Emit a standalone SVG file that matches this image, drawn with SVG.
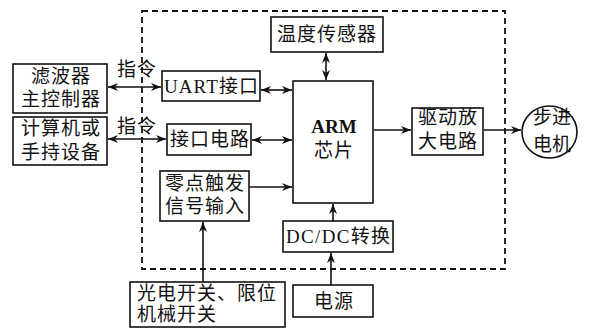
<svg xmlns="http://www.w3.org/2000/svg" width="595" height="329" viewBox="0 0 595 329">
<defs>
<marker id="ah" viewBox="0 0 10 8" refX="10" refY="4" markerWidth="10" markerHeight="8" markerUnits="userSpaceOnUse" orient="auto-start-reverse">
<path d="M0,0 L10,4 L0,8 L3,4 Z" fill="#111"/>
</marker>
<style>
.box{fill:#fff;stroke:#111;stroke-width:1.6}
.t{font-family:"Liberation Serif","Noto Sans CJK SC",serif;font-size:19px;fill:#111;text-anchor:middle;letter-spacing:1px}
.s{text-anchor:start}
.n{letter-spacing:0}
.b{font-weight:bold}
.c{stroke:#111;stroke-width:1.6;fill:none}
.dash{fill:none;stroke:#111;stroke-width:1.8;stroke-dasharray:6,4}
</style>
</defs>
<rect width="595" height="329" fill="#fff"/>
<rect class="dash" x="142" y="11" width="363" height="258"/>

<g id="connectors">
<line class="c" x1="108" y1="87" x2="161" y2="87" marker-start="url(#ah)" marker-end="url(#ah)"/>
<line class="c" x1="108" y1="139" x2="166" y2="139" marker-start="url(#ah)" marker-end="url(#ah)"/>
<line class="c" x1="261" y1="90" x2="292" y2="90" marker-start="url(#ah)" marker-end="url(#ah)"/>
<line class="c" x1="252" y1="140" x2="292" y2="140" marker-start="url(#ah)" marker-end="url(#ah)"/>
<line class="c" x1="326" y1="53" x2="326" y2="80" marker-start="url(#ah)" marker-end="url(#ah)"/>
<line class="c" x1="250" y1="187" x2="292" y2="187" marker-end="url(#ah)"/>
<line class="c" x1="333" y1="221" x2="333" y2="204" marker-end="url(#ah)"/>
<line class="c" x1="331" y1="285" x2="331" y2="253" marker-end="url(#ah)"/>
<line class="c" x1="203" y1="282" x2="203" y2="222" marker-end="url(#ah)"/>
<line class="c" x1="374" y1="130" x2="411" y2="130" marker-end="url(#ah)"/>
<line class="c" x1="484" y1="130" x2="521" y2="130" marker-end="url(#ah)"/>
<text class="t" x="137" y="76">指令</text>
<text class="t" x="137" y="133">指令</text>
</g>

<g id="temp">
<rect class="box" x="271" y="17" width="112" height="35"/>
<text class="t" x="327" y="41">温度传感器</text>
</g>
<g id="filter">
<rect class="box" x="13" y="64" width="94" height="49"/>
<text class="t" x="61" y="83">滤波器</text>
<text class="t" x="61" y="106">主控制器</text>
</g>
<g id="pc">
<rect class="box" x="13" y="117" width="94" height="48"/>
<text class="t" x="61" y="135">计算机或</text>
<text class="t" x="61" y="159">手持设备</text>
</g>
<g id="uart">
<rect class="box" x="162" y="71" width="98" height="30"/>
<text class="t n" x="211" y="93" textLength="94" lengthAdjust="spacing">UART接口</text>
</g>
<g id="iface">
<rect class="box" x="167" y="124" width="84" height="31"/>
<text class="t" x="210" y="146">接口电路</text>
</g>
<g id="zero">
<rect class="box" x="160" y="171" width="89" height="50"/>
<text class="t" x="205" y="190">零点触发</text>
<text class="t" x="205" y="213">信号输入</text>
</g>
<g id="arm">
<rect class="box" x="293" y="81" width="80" height="122"/>
<text class="t n b" x="334" y="133">ARM</text>
<text class="t" x="334" y="157">芯片</text>
</g>
<g id="driver">
<rect class="box" x="412" y="108" width="71" height="47"/>
<text class="t" x="448" y="124">驱动放</text>
<text class="t" x="448" y="148">大电路</text>
</g>
<g id="motor">
<ellipse class="box" cx="549.5" cy="132" rx="27.5" ry="26"/>
<text class="t n" x="552" y="124">步进</text>
<text class="t n" x="552" y="151">电机</text>
</g>
<g id="dcdc">
<rect class="box" x="283" y="221" width="110" height="31"/>
<text class="t n" x="338" y="243" textLength="104" lengthAdjust="spacing">DC/DC转换</text>
</g>
<g id="power">
<rect class="box" x="293" y="285" width="80" height="32"/>
<text class="t" x="334" y="308">电源</text>
</g>
<g id="switch">
<rect class="box" x="130" y="282" width="155" height="45"/>
<text class="t s" x="137" y="300">光电开关、限位</text>
<text class="t s" x="137" y="321">机械开关</text>
</g>
</svg>
